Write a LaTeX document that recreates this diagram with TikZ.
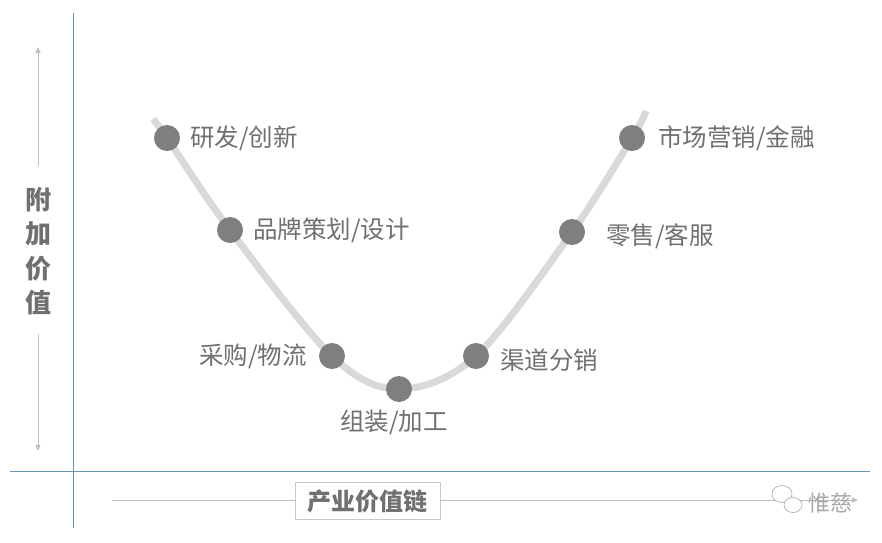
\documentclass[tikz,border=0pt]{standalone}
\usepackage{fontspec}
\setmainfont{Noto Sans CJK SC}
\usetikzlibrary{arrows.meta}
\definecolor{axisblue}{HTML}{6A94B4}
\definecolor{curvegray}{HTML}{D9D9D9}
\definecolor{dotgray}{HTML}{7F7F7F}
\definecolor{txtgray}{HTML}{707070}
\definecolor{arrgray}{HTML}{BFBFBF}
\definecolor{boxgray}{HTML}{C8C8C8}
\definecolor{wmgray}{HTML}{A8A8A8}
\begin{document}
\begin{tikzpicture}[x=1pt,y=-1pt,
  dot/.style={circle,fill=dotgray,minimum size=26pt,inner sep=0pt},
  lbl/.style={font=\fontsize{24.5}{26}\selectfont,text=txtgray,inner sep=0pt},
  axisline/.style={draw=axisblue,line width=0.9pt},
  grayarrow/.style={draw=arrgray,line width=0.8pt,-{Triangle[width=5pt,length=6pt]}}]
\useasboundingbox[fill=white] (0,0) rectangle (882,542);

% axes
\coordinate (vtop) at (73,13);
\coordinate (vbot) at (73,528);
\coordinate (hleft) at (10,471);
\coordinate (hright) at (870,471);
\draw[axisline] (vtop) -- (vbot);
\draw[axisline] (hleft) -- (hright);

% vertical label
\node[font=\fontsize{26}{34.5}\selectfont\bfseries,text=txtgray,align=center,inner sep=0pt] (vlabel) at (38,251) {附\\加\\价\\值};
\coordinate (uptip) at (38,47);
\coordinate (downtip) at (38,451);
\draw[grayarrow] (38,166) -- (uptip);
\draw[grayarrow] (38,334) -- (downtip);

% horizontal label
\coordinate (hstart) at (112,500);
\coordinate (hend) at (858,500);
\draw[grayarrow] (hstart) -- (hend);
\node[draw=boxgray,fill=white,line width=0.8pt,minimum width=145pt,minimum height=37pt,inner sep=0pt,font=\fontsize{24}{26}\selectfont\bfseries,text=txtgray] (hlabel) at (367.5,501) {产业价值链};

% curve
\draw[curvegray,line width=7pt] plot[smooth,tension=0.55] coordinates
  {(153,119) (167,138) (230,230) (332,356) (399,389) (476,356) (572,232) (632,138) (646,111)};

% dots
\node[dot] (d1) at (167,138) {};
\node[dot] (d2) at (230,230) {};
\node[dot] (d3) at (332,356) {};
\node[dot] (d4) at (399,389) {};
\node[dot] (d5) at (476,356) {};
\node[dot] (d6) at (572,232) {};
\node[dot] (d7) at (632,138) {};

% labels
\node[lbl,anchor=west] (l1) at (190,138) {研发/创新};
\node[lbl,anchor=west] (l2) at (253,230) {品牌策划/设计};
\node[lbl,anchor=east] (l3) at (307,356) {采购/物流};
\node[lbl] (l4) at (394,422) {组装/加工};
\node[lbl,anchor=west] (l5) at (500,360) {渠道分销};
\node[lbl,anchor=west] (l6) at (606,236) {零售/客服};
\node[lbl,anchor=west] (l7) at (658,138) {市场营销/金融};

% watermark
\draw[wmgray,line width=0.6pt,fill=white] (782,494) ellipse (10pt and 8.5pt);
\draw[wmgray,line width=0.6pt,fill=white] (793,505) ellipse (9pt and 7.5pt);
\node[font=\fontsize{22}{24}\selectfont,text=wmgray,inner sep=0pt,anchor=west] (wm) at (808,503) {惟慈};
\end{tikzpicture}
\end{document}
